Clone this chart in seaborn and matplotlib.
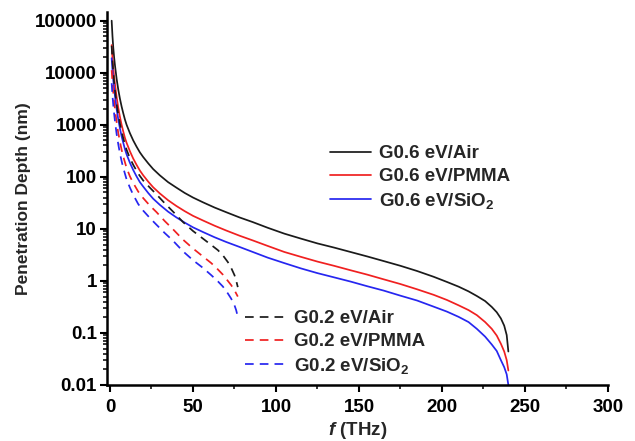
import numpy as np
import pandas as pd
import seaborn as sns
from matplotlib import pyplot as plt
from matplotlib.ticker import LogLocator, FuncFormatter, FixedLocator, NullFormatter

'''-------------------------------------------------------------
                    VALUES READ OFF THE FIGURE
----------------------------------------------------------------'''
# frequency points (THz)
f_g06 = [1, 1.5, 2, 2.5, 3, 4, 5, 6, 7, 8, 9, 10, 12, 14, 16, 18, 20, 23, 26, 30, 35, 40,
         45, 50, 56, 63, 70, 78, 86, 95, 105, 115, 125, 135, 145, 155, 165, 175, 185, 195,
         203, 210, 216, 221, 226, 230, 233, 235.5, 237.5, 239, 240]
f_g02 = [1, 1.5, 2, 2.5, 3, 4, 5, 6, 7, 8, 10, 12, 14, 17, 20, 24, 28, 33, 38, 44, 50, 56,
         61, 65, 68, 71, 73, 75, 76, 77]

# penetration depth (nm), graphene 0.6 eV
g06_air = [100000, 50000, 29500, 19500, 13800, 7600, 4700, 3160, 2240, 1660, 1260, 1000,
           690, 500, 380, 295, 240, 182, 141, 107, 79, 62, 49, 40, 32.4, 25.7, 20.9, 16.6,
           13.5, 10.5, 8.1, 6.5, 5.25, 4.37, 3.59, 2.95, 2.40, 1.95, 1.55, 1.20, 0.955,
           0.776, 0.63, 0.513, 0.41, 0.316, 0.25, 0.19, 0.138, 0.091, 0.044]
g06_pmma = [34000, 19000, 12000, 8300, 6000, 3400, 2100, 1410, 1000, 740, 560, 450, 310,
            224, 170, 132, 107, 81, 63, 48, 35.5, 27.5, 21.9, 17.8, 14.5, 11.5, 9.3, 7.4,
            6.0, 4.7, 3.6, 2.9, 2.35, 1.95, 1.6, 1.32, 1.07, 0.87, 0.69, 0.54, 0.43, 0.34,
            0.275, 0.22, 0.162, 0.12, 0.089, 0.062, 0.044, 0.030, 0.019]
g06_sio2 = [19000, 11000, 7100, 4900, 3550, 2000, 1260, 850, 600, 450, 340, 270, 186, 135,
            102, 79, 65, 49, 38, 29, 21.4, 16.6, 13.2, 10.7, 8.7, 6.9, 5.6, 4.5, 3.6, 2.8,
            2.2, 1.74, 1.41, 1.17, 0.97, 0.79, 0.65, 0.52, 0.42, 0.32, 0.257, 0.204, 0.162,
            0.12, 0.085, 0.06, 0.045, 0.030, 0.022, 0.016, 0.01]

# penetration depth (nm), graphene 0.2 eV
g02_air = [33000, 16600, 9800, 6500, 4600, 2500, 1550, 1050, 740, 550, 330, 229, 170, 115,
           85, 62, 46, 31, 21.4, 13.5, 9.1, 6.5, 4.9, 3.9, 3.1, 2.3, 1.78, 1.29, 1.02, 0.76]
g02_pmma = [11200, 6300, 4000, 2750, 2000, 1120, 690, 470, 330, 245, 148, 102, 76, 52, 39,
            28, 21, 14.1, 9.8, 6.2, 4.2, 2.95, 2.2, 1.66, 1.32, 1.0, 0.83, 0.66, 0.575, 0.5]
g02_sio2 = [6300, 3600, 2350, 1620, 1170, 660, 420, 280, 200, 148, 89, 62, 45, 30, 22.4,
            16.2, 12.0, 8.3, 5.9, 3.7, 2.5, 1.78, 1.29, 0.98, 0.78, 0.575, 0.457, 0.34,
            0.275, 0.204]

labels_g06 = ['G0.6 eV/Air', 'G0.6 eV/PMMA', 'G0.6 eV/SiO$_2$']
labels_g02 = ['G0.2 eV/Air', 'G0.2 eV/PMMA', 'G0.2 eV/SiO$_2$']
colors = ['#1a1a1a', '#f02020', '#2626f0']

x_ticks = [0, 50, 100, 150, 200, 250, 300]
x_minor = [25, 75, 125, 175, 225, 275]

'''-------------------------------------------------------------
                            STYLE
----------------------------------------------------------------'''
sns.set_theme(style='ticks')
plt.rcParams['font.family'] = ['Liberation Sans', 'DejaVu Sans']
plt.rcParams['font.weight'] = 'bold'
plt.rcParams['mathtext.fontset'] = 'custom'
plt.rcParams['mathtext.rm'] = 'Liberation Sans:bold'
plt.rcParams['mathtext.bf'] = 'Liberation Sans:bold'
plt.rcParams['mathtext.it'] = 'Liberation Sans:italic:bold'

fig = plt.figure(figsize=(6.35, 4.41), dpi=100)
ax = fig.add_axes([0.168, 0.127, 0.7894, 0.8465])

'''-------------------------------------------------------------
                            CURVES
----------------------------------------------------------------'''
for vals, lab, col in zip([g06_air, g06_pmma, g06_sio2], labels_g06, colors):
    df = pd.DataFrame({'f': f_g06, 'depth': vals})
    sns.lineplot(data=df, x='f', y='depth', ax=ax, color=col, lw=1.25, label=lab)

for vals, lab, col in zip([g02_air, g02_pmma, g02_sio2], labels_g02, colors):
    df = pd.DataFrame({'f': f_g02, 'depth': vals})
    sns.lineplot(data=df, x='f', y='depth', ax=ax, color=col, lw=1.25, label=lab,
                 linestyle=(0, (5, 3.5)))

'''-------------------------------------------------------------
                            AXES
----------------------------------------------------------------'''
ax.set_yscale('log')
ax.set_xlim(-2, 300)
ax.set_ylim(0.01, 1.49e5)
ax.xaxis.set_major_locator(FixedLocator(x_ticks))
ax.xaxis.set_minor_locator(FixedLocator(x_minor))
ax.yaxis.set_major_locator(LogLocator(base=10, numticks=20))
ax.yaxis.set_minor_locator(LogLocator(base=10, subs=np.arange(2, 10), numticks=100))
ax.yaxis.set_major_formatter(FuncFormatter(lambda v, _: f'{v:g}'))
ax.yaxis.set_minor_formatter(NullFormatter())

sns.despine(ax=ax)
for s in ['left', 'bottom']:
    ax.spines[s].set_linewidth(1.8)
    ax.spines[s].set_color('black')

ax.tick_params(which='major', direction='out', length=5, width=1.5, color='black',
               labelsize=13.5, labelcolor='black')
ax.tick_params(which='minor', direction='out', length=3, width=1.1, color='black')
ax.tick_params(axis='y', which='major', pad=2)
ax.tick_params(axis='x', which='major', pad=5)

ax.set_xlabel('$f$ (THz)', fontsize=13.5, fontweight='bold', labelpad=3)
ax.set_ylabel('Penetration Depth (nm)', fontsize=12.5, fontweight='bold', labelpad=3)

'''-------------------------------------------------------------
                            LEGENDS
----------------------------------------------------------------'''
handles, labels = ax.get_legend_handles_labels()
leg_kws = dict(frameon=False, fontsize=13.5, handlelength=2.2, handletextpad=0.4,
               labelspacing=0.3, borderpad=0, borderaxespad=0, loc='center left',
               bbox_transform=fig.transFigure)
leg1 = ax.legend(handles[:3], labels[:3], bbox_to_anchor=(330 / 635, 1 - 178 / 441), **leg_kws)
ax.add_artist(leg1)
ax.legend(handles[3:], labels[3:], bbox_to_anchor=(245 / 635, 1 - 343 / 441), **leg_kws)

fig.savefig('out.png', dpi=100)
